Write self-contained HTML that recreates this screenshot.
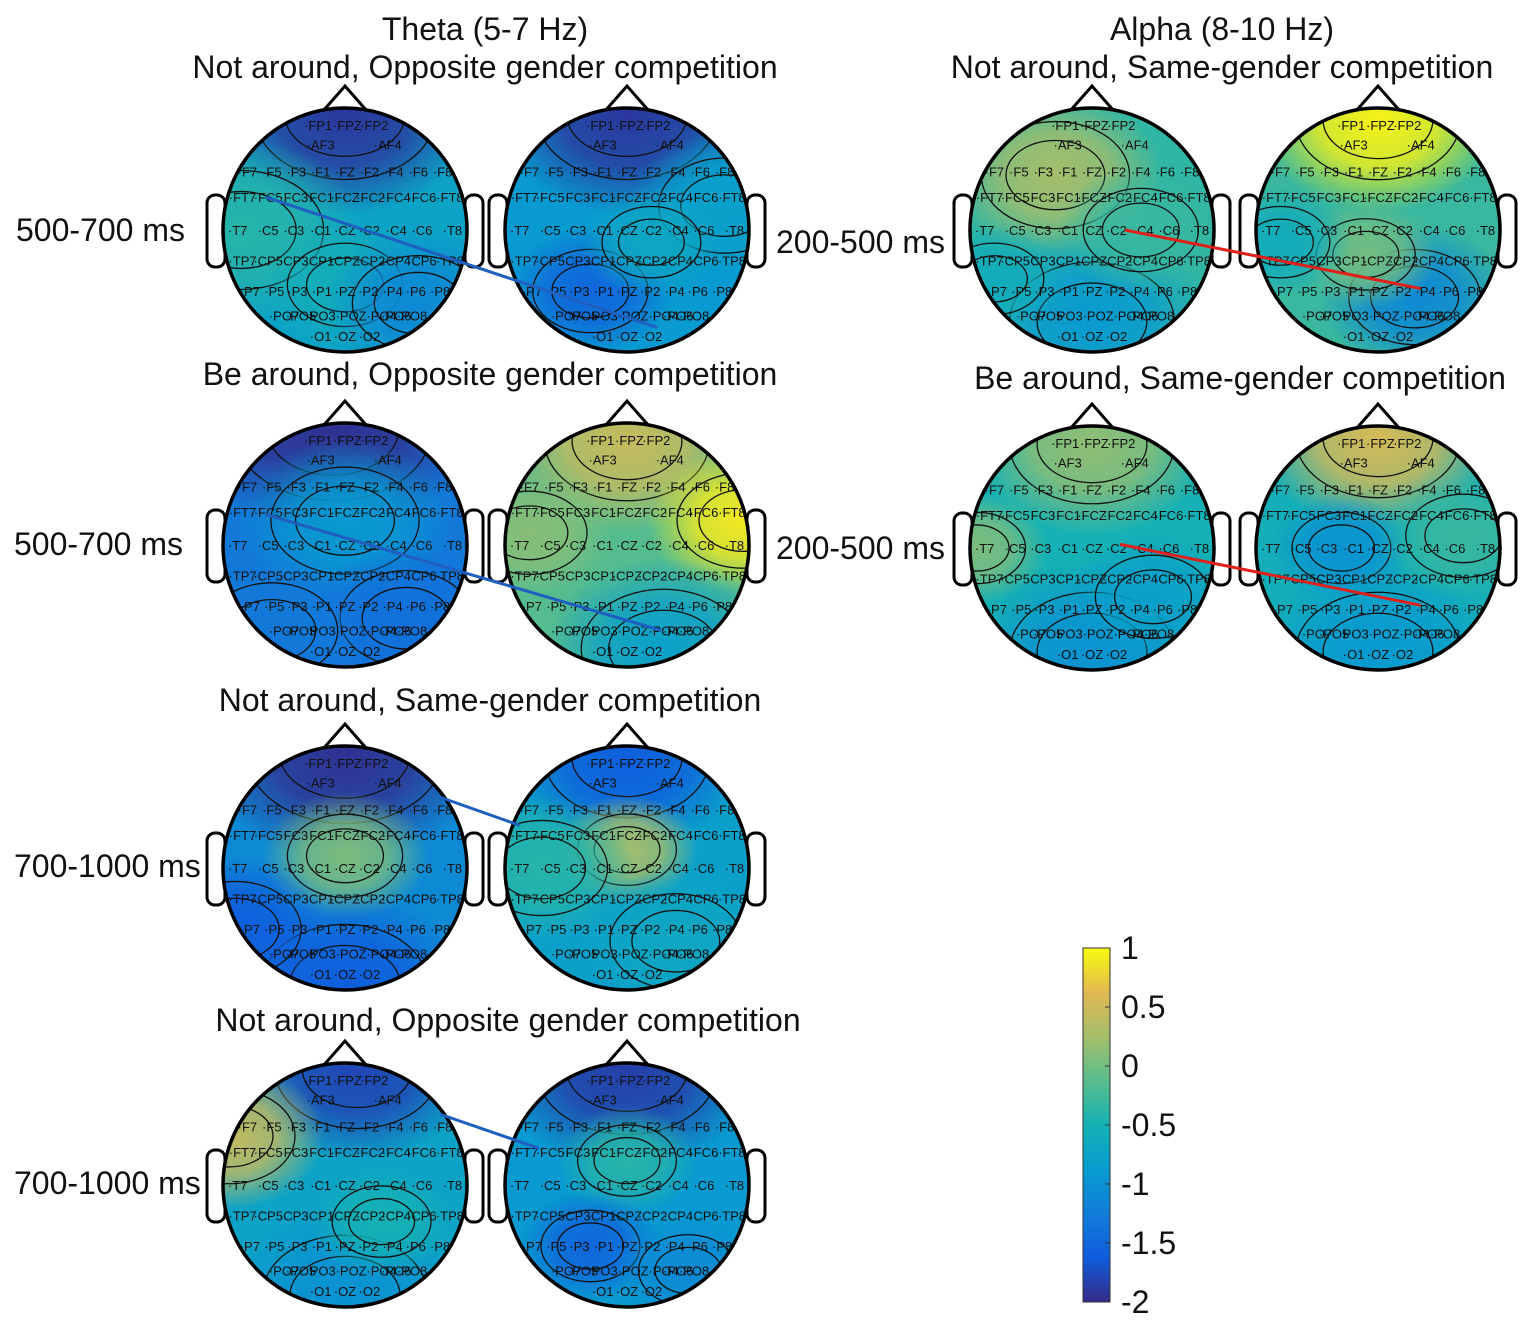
<!DOCTYPE html>
<html><head><meta charset="utf-8"><style>
html,body{margin:0;padding:0;background:#fff}
svg{display:block}
text{font-family:"Liberation Sans",sans-serif}
</style></head><body>
<svg id="fig" width="1535" height="1334" viewBox="0 0 1535 1334" xmlns="http://www.w3.org/2000/svg">
<defs id="defs"></defs>
<g id="heads"></g>
<g id="lines"></g>
<g id="texts" font-size="32" fill="#111">
<text x="485" y="40" text-anchor="middle">Theta (5-7 Hz)</text>
<text x="485" y="78" text-anchor="middle">Not around, Opposite gender competition</text>
<text x="490" y="385" text-anchor="middle">Be around, Opposite gender competition</text>
<text x="490" y="711" text-anchor="middle">Not around, Same-gender competition</text>
<text x="508" y="1031" text-anchor="middle">Not around, Opposite gender competition</text>
<text x="1222" y="40" text-anchor="middle">Alpha (8-10 Hz)</text>
<text x="1222" y="78" text-anchor="middle">Not around, Same-gender competition</text>
<text x="1240" y="389" text-anchor="middle">Be around, Same-gender competition</text>
<text x="16" y="241">500-700 ms</text>
<text x="14" y="555">500-700 ms</text>
<text x="14" y="877">700-1000 ms</text>
<text x="14" y="1194">700-1000 ms</text>
<text x="776" y="253">200-500 ms</text>
<text x="776" y="559">200-500 ms</text>
</g>
<g id="cbar"></g>
</svg>
<script>
const NS="http://www.w3.org/2000/svg";
const headNames=["theta-1-left","theta-1-right","theta-2-left","theta-2-right","theta-3-left","theta-3-right","theta-4-left","theta-4-right","alpha-1-left","alpha-1-right","alpha-2-left","alpha-2-right"];
const headCenters=[[345,230],[627,230],[345,545],[627,545],[345,868],[627,868],[345,1185],[627,1185],[1092,230],[1378,230],[1092,548],[1378,548]];
const headBase=[-0.75,-0.9,-1.3,-0.15,-1.1,-0.8,-0.75,-0.9,-0.35,-0.3,-0.5,-0.55];
const headBlobs=[
 [[0,-0.95,0.55,-1.9],[-0.85,0,0.5,-0.4],[0,0.45,0.35,-0.55],[0.6,0.6,0.4,-1.1]],
 [[0,-0.95,0.55,-1.9],[-0.3,0.5,0.35,-1.5],[0.8,-0.2,0.4,-0.8],[0.2,0.1,0.3,-0.7]],
 [[-0.1,-0.95,0.6,-1.95],[0,-0.2,0.45,-0.9],[0.5,0.6,0.4,-1.4],[-0.6,0.7,0.4,-1.3]],
 [[0,-0.85,0.5,0.45],[0.95,-0.2,0.4,0.9],[0.3,0.85,0.5,-0.8],[-0.8,-0.1,0.35,0.1]],
 [[0,-0.95,0.6,-1.95],[0,-0.1,0.35,0.05],[0,0.95,0.5,-1.6],[-0.9,0.5,0.4,-1.6]],
 [[0,-0.9,0.5,-1.6],[0,-0.15,0.3,0.25],[-0.7,0,0.4,-0.4],[0.4,0.6,0.4,-0.7]],
 [[0.1,-0.95,0.5,-1.8],[-0.95,-0.4,0.4,0.45],[0,0.9,0.5,-1.0],[0.3,0.3,0.3,-0.5]],
 [[0,-0.95,0.55,-1.85],[0,-0.2,0.3,-0.4],[-0.3,0.5,0.3,-1.5],[0.5,0.7,0.3,-1.1]],
 [[-0.3,-0.45,0.45,0.25],[0,0.75,0.5,-0.9],[0.4,0,0.35,-0.3],[-0.8,0.4,0.3,-0.6]],
 [[0,-0.9,0.5,0.95],[0.3,0.55,0.4,-1.1],[-0.1,0.2,0.3,0.0],[-0.8,0.1,0.3,-0.6]],
 [[0,-0.85,0.5,0.15],[-0.95,0,0.3,0.05],[0,0.85,0.5,-1.0],[0.5,0.4,0.35,-0.8]],
 [[0,-0.9,0.5,0.55],[-0.3,0,0.3,-1.0],[0,0.85,0.5,-0.9],[0.7,-0.1,0.35,-0.3]]
];
const cbarTicks=[1,0.5,0,-0.5,-1,-1.5,-2];
const blueLines=[[0,[-0.65,-0.27],1,[0.25,0.8]],[2,[-0.65,-0.25],3,[0.28,0.7]],[4,[0.78,-0.58],5,[-0.88,-0.35]],[6,[0.78,-0.58],7,[-0.72,-0.3]]];
const redLines=[[8,[0.27,0.0],9,[0.35,0.48]],[10,[0.23,-0.03],11,[0.35,0.47]]];
const R=122;
const stops=[[53,42,135],[15,92,221],[18,125,216],[7,156,207],[21,177,180],[89,189,140],[165,190,107],[225,185,82],[249,251,14]];
function parula(v){let t=(v+2)/3;t=Math.max(0,Math.min(1,t));const f=t*8;const i=Math.min(7,Math.floor(f));const u=f-i;const a=stops[i],b=stops[i+1];
 return `rgb(${Math.round(a[0]+(b[0]-a[0])*u)},${Math.round(a[1]+(b[1]-a[1])*u)},${Math.round(a[2]+(b[2]-a[2])*u)})`;}
function el(t,at,p){const e=document.createElementNS(NS,t);for(const k in at)e.setAttribute(k,at[k]);if(p)p.appendChild(e);return e;}
const elecRows=[
 [-0.86,[["FP1",-0.22],["FPZ",0.02],["FP2",0.24]]],
 [-0.7,[["AF3",-0.2],["AF4",0.35]]],
 [-0.48,[["F7",-0.8],["F5",-0.6],["F3",-0.4],["F1",-0.2],["FZ",0],["F2",0.2],["F4",0.4],["F6",0.6],["F8",0.8]]],
 [-0.27,[["FT7",-0.84],["FC5",-0.63],["FC3",-0.42],["FC1",-0.21],["FCZ",0],["FC2",0.21],["FC4",0.42],["FC6",0.63],["FT8",0.86]]],
 [0,[["T7",-0.88],["C5",-0.63],["C3",-0.42],["C1",-0.2],["CZ",0],["C2",0.2],["C4",0.42],["C6",0.63],["T8",0.88]]],
 [0.25,[["TP7",-0.84],["CP5",-0.63],["CP3",-0.42],["CP1",-0.21],["CPZ",0],["CP2",0.21],["CP4",0.42],["CP6",0.63],["TP8",0.86]]],
 [0.5,[["P7",-0.78],["P5",-0.58],["P3",-0.39],["P1",-0.19],["PZ",0],["P2",0.19],["P4",0.39],["P6",0.58],["P8",0.78]]],
 [0.7,[["PO7",-0.5],["PO5",-0.36],["PO3",-0.2],["POZ",0.05],["PO4",0.3],["PO6",0.42],["PO8",0.55]]],
 [0.87,[["O1",-0.2],["OZ",0],["O2",0.2]]]
];
const defs=document.getElementById('defs'),heads=document.getElementById('heads');
headCenters.forEach((c,h)=>{
 const [cx,cy]=c;
 const g=el('g',{},heads);
 
 
 el('path',{d:`M${cx-22} ${cy-R+3} L${cx} ${cy-R-22} L${cx+22} ${cy-R+3}`,fill:'#fff',stroke:'#000','stroke-width':3},g);
 el('rect',{x:cx-R-16,y:cy-35,width:18,height:72,rx:8,fill:'#fff',stroke:'#000','stroke-width':3},g);
 el('rect',{x:cx+R-2,y:cy-35,width:18,height:72,rx:8,fill:'#fff',stroke:'#000','stroke-width':3},g);
 const cp=el('clipPath',{id:'cp'+h},defs);el('circle',{cx,cy,r:R},cp);
 const inner=el('g',{'clip-path':`url(#cp${h})`},g);
 el('circle',{cx,cy,r:R,fill:parula(headBase[h])},inner);
 headBlobs[h].forEach((b,k)=>{
  const id=`rg${h}_${k}`;const rg=el('radialGradient',{id},defs);
  el('stop',{offset:'0','stop-color':parula(b[3]),'stop-opacity':1},rg);
  el('stop',{offset:'0.5','stop-color':parula(b[3]),'stop-opacity':0.8},rg);
  el('stop',{offset:'1','stop-color':parula(b[3]),'stop-opacity':0},rg);
  const bx=cx+b[0]*R,by=cy+b[1]*R,br=b[2]*R*1.5;
  const bl=el('ellipse',{cx:bx,cy:by,rx:br*1.3,ry:br,fill:`url(#${id})`},inner);
  
  
  el('ellipse',{cx:bx,cy:by,rx:br*0.6,ry:br*0.42,fill:'none',stroke:'#111','stroke-width':1.3},inner);
  el('ellipse',{cx:bx,cy:by,rx:br*0.9,ry:br*0.65,fill:'none',stroke:'#111','stroke-width':1.3},inner);
 });
 const eg=el('g',{'font-size':13,fill:'#111','text-anchor':'middle','font-family':'Liberation Serif, serif'},inner);
 elecRows.forEach(r=>r[1].forEach(e=>{const t=el('text',{x:cx+e[1]*R,y:cy+r[0]*R+5},eg);t.textContent='·'+e[0];}));
 el('circle',{cx,cy,r:R,fill:'none',stroke:'#000','stroke-width':3.5},g);
});
const lg=document.getElementById('lines');
function drawLine(L,col){const a=headCenters[L[0]],b=headCenters[L[2]];
 const ln=el('line',{x1:a[0]+L[1][0]*R,y1:a[1]+L[1][1]*R,x2:b[0]+L[3][0]*R,y2:b[1]+L[3][1]*R,stroke:col,'stroke-width':3},lg);
 
 }
blueLines.forEach(L=>drawLine(L,'#1f5fbf'));
redLines.forEach(L=>drawLine(L,'#e0201a'));
const cb=document.getElementById('cbar');
const cbTop=948,cbBot=1302,cbX=1083,cbW=27;
const yv=v=>cbTop+(1-v)/3*(cbBot-cbTop);
const lgr=el('linearGradient',{id:'cbg',x1:0,y1:1,x2:0,y2:0},defs);
stops.forEach((s,i)=>el('stop',{offset:i/8,'stop-color':`rgb(${s})`},lgr));
el('rect',{x:cbX,y:cbTop,width:cbW,height:cbBot-cbTop,fill:'url(#cbg)',stroke:'#333','stroke-width':1},cb);
cbarTicks.forEach(v=>{
 el('line',{x1:cbX+cbW-5,x2:cbX+cbW,y1:yv(v),y2:yv(v),stroke:'#333','stroke-width':1},cb);
 const t=el('text',{x:cbX+38,y:yv(v)+11,'font-size':32,fill:'#111'},cb);
 
 
 t.textContent=String(v);
});
</script>
</body></html>
